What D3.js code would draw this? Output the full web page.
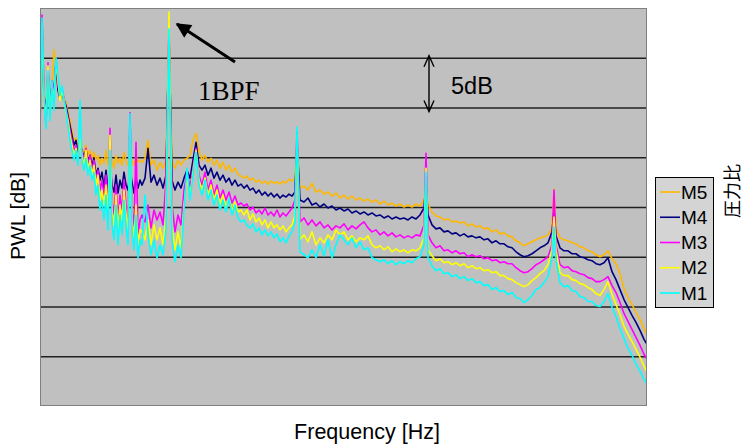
<!DOCTYPE html>
<html>
<head>
<meta charset="utf-8">
<script src="https://cdn.jsdelivr.net/npm/d3@7"></script>
<style>
  html, body { margin: 0; padding: 0; background: #ffffff; }
  svg { display: block; }
</style>
</head>
<body>
<svg id="chart" width="745" height="445"></svg>
<script>
// Spectrum bins (Hz)
const freqHz = [
  0,16,32,48,64,80,96,112,128,144,160,176,192,208,224,240,256,272,288,304,320,336,352,368,384,400,416,432,448,464,480,496,512,528,544,560,576,592,608,624,640,656,672,688,704,720,736,752,768,784,800,
  816,840,864,888,912,936,960,984,1008,1032,1056,1080,1104,1128,1152,1176,1200,1224,1248,1272,1296,1320,1344,1368,1392,1416,1440,1464,1488,1512,1536,1560,1584,1608,1632,1656,1680,1704,1728,1752,1776,1800,1824,1848,1872,1896,1920,1944,1968,1992,2016,2040,
  2056,
  2080,2112,2144,2176,2208,2240,2272,2304,2336,2368,2400,2432,2464,2496,2528,2560,2592,2624,2656,2688,2720,2752,2784,2816,2848,2880,2912,2944,2976,3008,3040,3072,
  3088,
  3104,3136,3168,3200,3232,3264,3296,3328,3360,3392,3424,3456,3488,3520,3552,3584,3616,3648,3680,3712,3744,3776,3808,3840,3872,3904,3936,3968,4000,4032,4064,4096,
  4112,
  4128,4160,4192,4224,4256,4288,4320,4352,4384,4416,4448,4480,4512,4544,4576,4608,4640,4672,4704,4736,4768,4800,4832,
  4856
];

// Blade passing frequency (Hz)
const bpfHz = 1032;

// Power level per operating point (dB)
const pwlM5 = [
  29.2,35.7,31.7,29.7,33.2,30.7,32.2,35.8,34.2,31.9,31.2,31.7,30.9,30.5,29.5,28.7,27.7,26.7,26.9,25.9,26.2,25.7,25.5,26.2,25.2,25.7,24.9,25.5,24.7,25.2,24.2,24.9,24.4,25.7,24.2,25.2,24.7,23.9,25.2,24.4,24.9,24.2,25.5,24.7,24.2,25.2,24.7,24.2,25.2,24.5,24.7,
  24.5,24.9,26.7,24.2,24.7,23.7,24.5,23.9,24.7,37.2,24.7,23.9,24.7,24.2,24.7,24.9,25.2,26.7,27.4,25.7,24.7,25.2,24.5,24.9,24.2,24.7,23.9,24.5,23.7,24.2,23.5,23.9,23.3,23.1,22.9,23.1,22.7,22.9,22.5,22.7,22.4,22.6,22.3,22.6,22.4,22.5,22.3,22.6,22.4,22.8,22.6,22.9,
  26.2,
  21.9,22.1,21.7,22.4,21.5,21.7,21.3,21.5,21.1,21.4,20.9,21.2,20.8,21.1,20.7,20.9,20.6,20.8,20.5,20.7,20.3,20.6,20.2,20.4,20.1,20.3,20.0,20.2,20.0,20.3,20.1,20.7,
  21.7,
  20.2,19.5,19.1,19.0,18.7,18.8,18.5,18.6,18.4,18.5,18.1,18.3,18.0,18.1,17.8,17.9,17.5,17.7,17.3,17.4,17.1,17.0,16.6,16.4,16.1,16.3,16.5,16.7,16.9,17.0,17.2,17.9,
  21.8,
  17.9,16.9,16.7,16.6,16.4,16.3,16.0,15.9,15.6,15.5,15.2,15.0,15.2,15.6,14.8,14.3,13.3,11.8,10.9,10.2,9.4,8.7,7.8,
  7.1
];
const pwlM4 = [
  28.7,36.7,31.2,29.2,33.7,30.2,32.2,31.7,34.5,31.7,30.9,31.5,30.7,30.2,29.2,28.2,27.2,26.2,26.7,25.5,26.2,25.7,24.9,25.7,24.5,25.2,24.2,24.9,23.2,23.9,22.7,23.5,21.9,23.7,21.7,24.2,22.2,21.5,23.2,21.4,22.7,21.9,23.5,22.2,21.7,23.7,22.5,21.4,22.9,21.9,22.7,
  22.2,22.9,25.9,22.5,23.2,22.2,22.9,21.9,23.2,37.7,22.7,21.7,22.5,21.9,22.9,23.7,22.9,24.7,26.5,24.2,23.7,24.2,23.2,23.9,22.9,23.5,22.7,23.2,22.5,22.9,22.2,22.7,22.1,22.3,21.9,22.2,21.7,21.9,21.4,21.7,21.2,21.5,21.1,21.4,21.0,21.3,20.9,21.2,21.0,21.3,21.1,21.5,
  26.7,
  20.7,20.5,20.9,20.2,20.4,20.0,20.3,19.9,20.1,19.7,19.9,19.6,19.8,19.4,19.6,19.3,19.5,19.2,19.4,19.1,19.2,18.9,19.1,18.8,19.0,18.8,18.9,18.7,19.0,18.8,19.2,19.9,
  22.5,
  19.2,18.2,17.8,17.9,17.5,17.6,17.3,17.4,17.1,17.3,17.0,17.1,16.9,17.0,16.7,16.8,16.4,16.6,16.3,16.3,16.0,15.9,15.5,15.2,15.0,15.1,15.3,15.6,15.9,16.1,16.4,17.5,
  19.7,
  17.1,15.9,15.6,15.6,15.3,15.3,15.0,14.9,14.7,14.6,14.3,14.2,14.4,14.9,13.5,12.7,11.7,10.7,9.9,9.1,8.4,7.6,6.7,
  6.2
];
const pwlM3 = [
  27.4,39.3,31.7,28.2,34.5,29.7,32.7,31.2,34.9,32.2,31.2,31.9,30.9,29.9,28.9,27.7,26.7,25.7,26.2,24.9,26.2,25.7,24.7,25.9,24.2,25.2,23.7,24.7,22.7,23.7,21.7,22.7,21.2,23.2,20.2,27.9,20.7,19.2,22.2,18.7,21.2,19.7,22.7,20.2,18.7,29.5,19.7,17.9,26.5,17.2,18.7,
  19.2,18.5,20.2,17.9,19.7,18.7,19.5,18.2,22.7,38.7,20.2,17.5,19.2,18.2,21.7,23.5,21.9,23.9,25.9,23.2,22.2,23.5,21.7,22.7,21.2,22.2,20.9,21.7,20.7,21.5,20.4,21.1,20.2,20.4,20.1,20.3,19.7,20.0,19.4,19.7,19.3,19.9,19.2,19.5,19.1,19.7,19.0,19.4,19.1,19.5,19.9,20.7,
  27.5,
  18.5,18.9,18.2,18.7,18.1,18.5,17.9,18.2,17.7,18.1,17.9,18.3,17.7,18.1,17.8,18.2,18.5,17.9,17.5,17.7,17.2,17.5,17.1,17.4,17.0,17.2,16.9,17.1,16.9,17.2,17.1,18.2,
  25.4,
  17.2,16.4,15.9,16.1,15.6,15.7,15.4,15.6,15.3,15.4,15.0,15.2,15.0,15.1,14.8,14.9,14.6,14.7,14.4,14.5,14.3,14.3,13.9,13.6,13.4,13.5,13.8,14.2,14.4,14.7,15.0,16.2,
  21.7,
  16.2,14.2,13.9,14.0,13.6,13.5,13.3,13.2,12.9,12.8,12.5,12.5,12.7,13.0,12.1,11.4,10.4,9.3,8.5,7.7,6.9,6.1,5.2,
  4.7
];
const pwlM2 = [
  28.2,37.7,30.7,28.7,34.2,29.2,32.2,30.7,34.7,32.7,30.7,31.7,30.7,29.5,28.7,27.2,26.2,25.2,25.9,24.7,26.7,25.2,24.2,25.7,23.7,24.7,23.2,24.2,22.2,23.2,20.7,21.7,20.2,22.2,19.2,27.2,19.7,18.2,21.2,17.7,20.2,18.7,21.7,19.2,17.7,28.2,18.7,16.9,20.2,16.2,17.7,
  17.5,16.7,18.7,16.2,18.2,16.7,17.9,16.2,19.2,39.6,18.2,15.7,17.5,15.9,20.2,22.9,21.2,23.5,25.7,22.7,21.7,22.9,21.2,22.2,20.7,21.7,20.2,21.2,19.9,20.9,19.7,20.5,19.5,19.7,19.2,19.7,18.7,19.3,18.5,18.9,18.2,18.7,17.9,18.5,17.9,18.2,17.7,18.1,17.5,17.9,18.2,19.2,
  27.2,
  16.7,17.2,16.5,17.5,16.2,16.9,16.4,17.2,16.7,17.7,17.2,17.5,16.7,17.1,16.5,16.9,16.7,17.1,16.2,15.9,16.1,15.7,16.0,15.5,15.8,15.5,15.7,15.4,15.7,15.6,15.9,16.9,
  23.9,
  15.7,15.1,14.6,14.8,14.4,14.5,14.2,14.4,14.1,14.3,13.9,14.1,13.8,13.9,13.6,13.7,13.4,13.5,13.1,13.1,12.8,12.7,12.4,12.2,12.0,12.2,12.6,12.9,13.3,13.6,14.2,15.7,
  19.0,
  15.7,13.4,13.1,13.1,12.7,12.6,12.3,12.2,11.9,11.7,11.3,11.1,11.7,12.5,11.2,10.2,9.2,8.0,7.2,6.5,5.7,4.9,4.0,
  3.4
];
const pwlM1 = [
  27.7,39.0,31.2,27.9,33.7,28.7,32.7,29.7,35.0,33.2,31.2,32.2,30.7,29.7,28.2,26.7,25.7,24.7,25.7,24.2,30.7,24.7,23.7,24.9,23.2,24.2,22.7,23.5,21.2,22.2,19.7,20.7,18.7,21.2,17.7,25.7,18.2,16.7,20.2,16.2,19.2,17.2,20.7,18.2,16.2,29.4,17.7,15.7,19.2,14.9,16.7,
  16.2,21.2,17.2,15.2,16.7,14.9,16.2,15.2,17.7,37.9,16.7,14.5,16.2,14.9,19.7,23.9,20.7,23.2,25.5,22.2,21.2,22.7,20.7,21.7,20.2,21.2,19.7,20.7,19.5,20.9,19.2,20.2,18.9,18.5,18.7,18.1,17.9,18.3,17.5,17.9,17.2,17.7,17.1,17.5,16.9,17.3,16.5,16.9,16.4,17.1,17.5,18.5,
  28.0,
  15.5,15.2,14.9,15.7,14.9,16.2,15.1,16.7,14.9,16.2,17.2,16.7,16.2,16.9,15.9,16.5,15.7,15.9,14.9,14.7,14.5,14.7,14.3,14.6,14.2,14.5,14.3,14.6,14.4,14.8,15.0,16.2,
  23.5,
  14.9,14.1,13.6,13.8,13.3,13.4,13.0,13.2,12.8,13.0,12.6,12.8,12.4,12.5,12.1,12.2,11.7,11.9,11.5,11.6,11.2,11.4,10.9,10.8,10.4,10.7,11.1,11.7,11.9,12.4,13.0,14.9,
  18.0,
  14.7,12.4,12.0,12.1,11.6,11.5,11.0,10.9,10.5,10.5,10.1,10.0,10.5,11.3,9.9,9.0,7.8,6.8,5.8,5.1,4.2,3.5,2.7,
  2.2
];

const seriesNames = ["M5", "M4", "M3", "M2", "M1"];
const gridDb = [5, 10, 15, 20, 25, 30, 35];

// Drawing order M5 -> M1 (M1 ends up on top)
const series = [
  { name: "M5", values: pwlM5 },
  { name: "M4", values: pwlM4 },
  { name: "M3", values: pwlM3 },
  { name: "M2", values: pwlM2 },
  { name: "M1", values: pwlM1 }
];
const colour = d3.scaleOrdinal()
  .domain(seriesNames)
  .range(["#ffb800", "#000080", "#ff00ff", "#ffff00", "#00ffff"]);

const plot = { left: 40, right: 647, top: 8, bottom: 406 };
const x = d3.scaleLinear().domain([0, 4856]).range([plot.left, plot.right]);
const y = d3.scaleLinear().domain([0, 40]).range([plot.bottom, plot.top]);

const svg = d3.select("#chart");
const sans = "'Liberation Sans', Arial, sans-serif";

// plot background
svg.append("rect")
  .attr("x", plot.left).attr("y", plot.top)
  .attr("width", plot.right - plot.left).attr("height", plot.bottom - plot.top)
  .attr("fill", "#c0c0c0");

// horizontal gridlines every 5 dB (no tick labels)
const grid = svg.append("g")
  .attr("transform", `translate(${plot.left},0)`)
  .call(d3.axisLeft(y).tickValues(gridDb).tickSize(-(plot.right - plot.left)).tickFormat(""));
grid.select(".domain").remove();
grid.selectAll(".tick line").attr("stroke", "#202020").attr("stroke-width", 1.3);

// clip for the traces
svg.append("clipPath").attr("id", "plotClip")
  .append("rect")
  .attr("x", plot.left).attr("y", plot.top)
  .attr("width", plot.right - plot.left).attr("height", plot.bottom - plot.top);

const line = d3.line()
  .x((d, i) => x(freqHz[i]))
  .y(d => y(d));

svg.append("g").attr("clip-path", "url(#plotClip)")
  .selectAll("path")
  .data(series)
  .join("path")
  .attr("d", d => line(d.values))
  .attr("fill", "none")
  .attr("stroke", d => colour(d.name))
  .attr("stroke-width", 1.6)
  .attr("stroke-linejoin", "round");

// plot frame
svg.append("rect")
  .attr("x", plot.left + 0.5).attr("y", plot.top + 0.5)
  .attr("width", plot.right - plot.left - 1).attr("height", plot.bottom - plot.top - 1)
  .attr("fill", "none").attr("stroke", "#808080").attr("stroke-width", 1);

// axis titles
svg.append("text")
  .attr("x", 367).attr("y", 439)
  .attr("text-anchor", "middle")
  .attr("font-family", sans).attr("font-size", 21.5)
  .attr("fill", "#000")
  .text("Frequency [Hz]");

svg.append("text")
  .attr("transform", "translate(25,216) rotate(-90)")
  .attr("text-anchor", "middle")
  .attr("font-family", sans).attr("font-size", 21)
  .attr("fill", "#000")
  .text("PWL [dB]");

svg.append("text")
  .attr("transform", "translate(731,191) rotate(-90)")
  .attr("text-anchor", "middle")
  .attr("dominant-baseline", "central")
  .attr("font-family", "'Noto Sans CJK JP', sans-serif").attr("font-size", 18)
  .attr("fill", "#000")
  .text("圧力比");

// legend
const legendRow = d3.scalePoint().domain(seriesNames).range([192, 293]);
const legend = svg.append("g");
legend.append("rect")
  .attr("x", 655.5).attr("y", 177.5).attr("width", 58).attr("height", 130)
  .attr("fill", "#d4d4d4").attr("stroke", "#000").attr("stroke-width", 1);
const items = legend.selectAll("g.item").data(seriesNames).join("g")
  .attr("class", "item")
  .attr("transform", d => `translate(0,${legendRow(d)})`);
items.append("line")
  .attr("x1", 660).attr("x2", 680).attr("y1", 0).attr("y2", 0)
  .attr("stroke", d => colour(d)).attr("stroke-width", 1.6);
items.append("text")
  .attr("x", 681).attr("y", 0)
  .attr("dominant-baseline", "central")
  .attr("font-family", sans).attr("font-size", 19)
  .attr("fill", "#000")
  .text(d => d);

// 1BPF annotation
const defs = svg.append("defs");
defs.append("marker")
  .attr("id", "headFilled")
  .attr("viewBox", "0 0 10 10")
  .attr("refX", 9).attr("refY", 5)
  .attr("markerWidth", 6).attr("markerHeight", 5)
  .attr("markerUnits", "strokeWidth")
  .attr("orient", "auto")
  .append("path").attr("d", "M0,0 L10,5 L0,10 Z").attr("fill", "#000");

const bpfPeak = d3.max(series, s => s.values[freqHz.indexOf(bpfHz)]);
const tipX = x(bpfHz) + 8, tipY = y(bpfPeak) + 12;
svg.append("line")
  .attr("x1", tipX + 58).attr("y1", tipY + 38)
  .attr("x2", tipX).attr("y2", tipY)
  .attr("stroke", "#000").attr("stroke-width", 3)
  .attr("marker-end", "url(#headFilled)");

svg.append("text")
  .attr("x", 198).attr("y", 100)
  .attr("font-family", "'Liberation Serif', 'Times New Roman', serif").attr("font-size", 27)
  .attr("fill", "#000")
  .text("1BPF");

// 5 dB scale bar
const barX = 429;
const barTop = y(35) - 2, barBottom = y(30) + 4;
const bar = svg.append("g").attr("stroke", "#000").attr("stroke-width", 1.4).attr("fill", "none");
bar.append("line").attr("x1", barX).attr("x2", barX).attr("y1", barTop).attr("y2", barBottom);
bar.append("path").attr("d", `M${barX - 5},${barTop + 11} L${barX},${barTop} L${barX + 5},${barTop + 11}`);
bar.append("path").attr("d", `M${barX - 5},${barBottom - 11} L${barX},${barBottom} L${barX + 5},${barBottom - 11}`);

svg.append("text")
  .attr("x", 451).attr("y", 94)
  .attr("font-family", sans).attr("font-size", 23.5)
  .attr("fill", "#000")
  .text("5dB");
</script>
</body>
</html>
